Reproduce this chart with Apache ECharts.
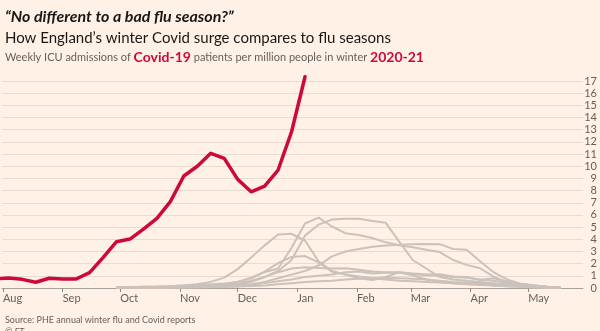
<!DOCTYPE html>
<html>
<head>
<meta charset="utf-8">
<script src="https://cdn.jsdelivr.net/npm/echarts@6/dist/echarts.min.js"></script>
<style>
  html, body { margin: 0; padding: 0; background: #fff1e5; }
  #chart { width: 600px; height: 331px; }
</style>
</head>
<body>
<div id="chart"></div>
<script>
// x axis: days counted from 1 August; month ticks at the first of each month
const monthDays = [0, 31, 61, 92, 122, 153, 184, 212, 243, 273];
const monthLabels = ['Aug', 'Sep', 'Oct', 'Nov', 'Dec', 'Jan', 'Feb', 'Mar', 'Apr', 'May'];

// Covid-19 weekly ICU admissions per million, winter 2020-21
const covidStartDay = -4;
const weekStep = 7;
const covid2020 = [0.75, 0.82, 0.71, 0.47, 0.80, 0.74, 0.74, 1.26, 2.5, 3.8, 4.02, 4.84,
                   5.72, 7.09, 9.2, 10.0, 11.06, 10.65, 8.92, 7.9, 8.37, 9.69, 12.83, 17.35];

// Flu seasons, weekly ICU admissions per million (from early October)
const fluStartDay = 59;
const fluA = [0.05,0.05,0.1,0.1,0.15,0.2,0.3,0.5,0.85,1.55,2.5,3.5,4.4,4.45,3.9,2.2,1.4,1.1,0.8,0.65,0.9,1.3,1.05,0.7,0.5,0.4,0.3,0.25,0.2,0.15,0.1,0.05,0.05,0.02];
const fluB = [0.02,0.03,0.05,0.05,0.08,0.1,0.15,0.2,0.3,0.5,0.85,1.3,1.6,3.3,5.3,5.78,5.05,4.5,4.35,4.1,3.75,3.5,3.35,3.15,2.95,2.3,1.9,1.62,0.93,0.45,0.3,0.15,0.08,0.03];
const fluC = [0.02,0.03,0.04,0.05,0.06,0.08,0.1,0.15,0.2,0.3,0.5,0.9,1.4,2.3,4.3,5.2,5.62,5.68,5.68,5.5,5.35,3.8,2.3,1.6,0.9,0.7,0.6,0.5,0.4,0.3,0.2,0.1,0.05,0.02];
const fluD = [0.02,0.02,0.03,0.04,0.05,0.06,0.08,0.1,0.15,0.2,0.3,0.5,0.8,1.1,1.4,1.85,2.6,3.0,3.2,3.38,3.5,3.55,3.6,3.62,3.6,3.2,3.15,2.2,1.3,0.7,0.35,0.2,0.1,0.05];
const fluE = [0.05,0.08,0.1,0.12,0.15,0.2,0.25,0.3,0.38,0.5,0.8,1.35,2.05,2.55,2.62,2.1,1.35,1.1,0.95,0.8,0.7,0.6,0.55,0.5,0.45,0.4,0.35,0.3,0.2,0.15,0.1,0.05,0.03,0.02];
const fluF = [0.02,0.03,0.04,0.05,0.06,0.08,0.1,0.1,0.2,0.35,0.6,0.9,1.3,1.6,1.7,1.65,1.6,1.62,1.5,1.35,1.3,1.25,1.15,1.05,1.0,0.9,0.85,0.7,0.6,0.45,0.3,0.2,0.1,0.05];
const fluG = [0.01,0.02,0.03,0.04,0.05,0.06,0.08,0.1,0.12,0.15,0.25,0.4,0.55,0.7,0.9,1.0,1.1,1.3,1.35,1.2,1.25,1.3,1.2,1.1,1.12,0.95,0.9,0.65,0.8,0.55,0.35,0.2,0.1,0.04];
const fluH = [0.01,0.01,0.02,0.02,0.03,0.04,0.05,0.06,0.08,0.12,0.16,0.2,0.3,0.4,0.5,0.55,0.6,0.7,0.75,0.8,0.85,0.8,0.75,0.7,0.6,0.5,0.45,0.4,0.3,0.2,0.15,0.1,0.05,0.02];
const fluSeasons = [fluA, fluB, fluC, fluD, fluE, fluF, fluG, fluH];

const RED = '#cc0a37';
const GREY_LINE = '#cac2bb';
const TEXT = '#66605c';
const FONT = 'Lato';

const toPairs = (values, start) => values.map((v, i) => [start + i * weekStep, v]);

const series = fluSeasons.map(vals => ({
  type: 'line',
  data: toPairs(vals, fluStartDay),
  symbol: 'none',
  lineStyle: { color: GREY_LINE, width: 2 },
  z: 2,
  silent: true
}));
series.push({
  type: 'line',
  data: toPairs(covid2020, covidStartDay),
  symbol: 'none',
  clip: false,
  lineStyle: { color: RED, width: 3.5, join: 'round', cap: 'round' },
  z: 5,
  silent: true
});

const chart = echarts.init(document.getElementById('chart'), null, { renderer: 'canvas' });
chart.setOption({
  backgroundColor: '#fff1e5',
  animation: false,
  textStyle: { fontFamily: FONT },
  title: [
    {
      text: '“No different to a bad flu season?”',
      left: 0, top: 4,
      textStyle: { fontFamily: FONT, fontSize: 16, fontWeight: 'bold', fontStyle: 'italic', color: '#1a1817' }
    },
    {
      text: 'How England’s winter Covid surge compares to flu seasons',
      left: 0, top: 26,
      textStyle: { fontFamily: FONT, fontSize: 15, fontWeight: 'normal', color: '#1a1817' }
    },
    {
      text: '{g|Weekly ICU admissions of }{r|Covid-19}{g| patients per million people in winter }{r|2020-21}',
      left: 0, top: 45,
      textStyle: {
        fontWeight: 'normal',
        rich: {
          g: { fontFamily: FONT, fontSize: 11, fontWeight: 'normal', color: TEXT },
          r: { fontFamily: FONT, fontSize: 14, fontWeight: 'bold', color: RED }
        }
      }
    },
    {
      text: 'Source: PHE annual winter flu and Covid reports',
      left: 0, top: 311,
      textStyle: { fontFamily: FONT, fontSize: 9, fontWeight: 'normal', color: TEXT }
    },
    {
      text: '© FT',
      left: 0, top: 323,
      textStyle: { fontFamily: FONT, fontSize: 9, fontWeight: 'normal', fontStyle: 'italic', color: TEXT }
    }
  ],
  grid: { left: 0, right: 17, top: 81, bottom: 43, containLabel: false },
  xAxis: {
    type: 'value',
    min: -0.5,
    max: 301.5,
    splitLine: { show: false },
    axisLine: { show: true, lineStyle: { color: '#a9a29c', width: 1 } },
    axisTick: { show: true, customValues: monthDays, length: 4, lineStyle: { color: '#8f8984' } },
    axisLabel: {
      customValues: monthDays,
      formatter: v => monthLabels[monthDays.indexOf(v)] || '',
      align: 'left',
      margin: 5,
      fontFamily: FONT,
      fontSize: 11,
      color: TEXT
    }
  },
  yAxis: {
    type: 'value',
    position: 'right',
    min: 0,
    max: 17,
    interval: 1,
    axisLine: { show: false },
    axisTick: { show: false },
    splitLine: { show: true, lineStyle: { color: '#e9dbcf', width: 1 } },
    axisLabel: { align: 'right', margin: 14, fontFamily: FONT, fontSize: 11, color: TEXT }
  },
  series: series
});
</script>
</body>
</html>
